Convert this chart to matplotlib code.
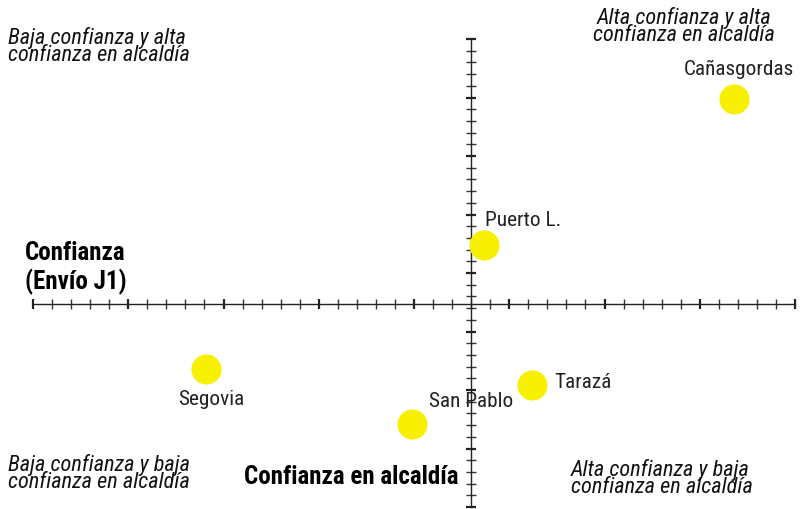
import matplotlib
matplotlib.use("Agg")
import matplotlib.pyplot as plt
from matplotlib.ticker import MultipleLocator

# municipios y posiciones (escala de 0 a 40 en cada eje)
municipios = ["Cañasgordas", "Puerto L.", "Segovia", "Tarazá", "San Pablo"]
conf_alcaldia = [36.8, 23.7, 9.1, 26.2, 19.9]
conf_envio = [34.9, 22.4, 11.8, 10.4, 7.1]

quadrant_labels = [
    "Baja confianza y alta\nconfianza en alcaldía",
    "Alta confianza y alta\nconfianza en alcaldía",
    "Baja confianza y baja\nconfianza en alcaldía",
    "Alta confianza y baja\nconfianza en alcaldía",
]

# (dx, dy, ha) offsets for each point label, in pixels
label_pos = [(5, 30, "center"), (1, 25, "left"), (5, -30, "center"),
             (22, 4, "left"), (17, 23, "left")]

FONT = ["Roboto Condensed", "Liberation Sans Narrow", "Roboto", "DejaVu Sans"]
plt.rcParams["font.family"] = FONT

fig = plt.figure(figsize=(8, 5.1), dpi=100)
ax = fig.add_axes([33 / 800, 2 / 510, 762 / 800, 468 / 510])
ax.set_xlim(0, 40)
ax.set_ylim(0, 40)

# axes cross at the average of the municipios
cx = sum(conf_alcaldia) / len(conf_alcaldia) - 0.15
cy = sum(conf_envio) / len(conf_envio)

for s in ["top", "right"]:
    ax.spines[s].set_visible(False)
ax.spines["left"].set_position(("data", cx))
ax.spines["bottom"].set_position(("data", cy))
for s in ["left", "bottom"]:
    ax.spines[s].set_linewidth(1.0)
    ax.spines[s].set_color("#222222")

ax.xaxis.set_major_locator(MultipleLocator(5))
ax.xaxis.set_minor_locator(MultipleLocator(1))
ax.yaxis.set_major_locator(MultipleLocator(5))
ax.yaxis.set_minor_locator(MultipleLocator(1))
ax.tick_params(which="major", direction="inout", length=7.5, width=1.6, color="#222222")
ax.tick_params(which="minor", direction="inout", length=6.5, width=1.0, color="#333333")
ax.tick_params(labelbottom=False, labelleft=False)

ax.scatter(conf_alcaldia, conf_envio, s=470, color="#f7f000", zorder=3, linewidths=0)

for name, x, y, (dx, dy, ha) in zip(municipios, conf_alcaldia, conf_envio, label_pos):
    ax.annotate(name, (x, y), xytext=(dx, dy), textcoords="offset pixels",
                ha=ha, va="center", fontsize=15.3, color="#222222", zorder=4)

qkw = dict(fontsize=16, style="italic", color="#111111", linespacing=0.78)
fig.text(8 / 800, 1 - 27 / 510, quadrant_labels[0], ha="left", va="top", **qkw)
fig.text(684 / 800, 1 - 7 / 510, quadrant_labels[1], ha="center", va="top",
         multialignment="center", **qkw)
fig.text(8 / 800, 1 - 454 / 510, quadrant_labels[2], ha="left", va="top", **qkw)
fig.text(571 / 800, 1 - 459 / 510, quadrant_labels[3], ha="left", va="top", **qkw)

bkw = dict(fontsize=18, fontweight="bold", color="black")
fig.text(25 / 800, 1 - 268 / 510, "Confianza\n(Envío J1)", ha="left", va="center",
         linespacing=1.18, **bkw)
fig.text(459 / 800, 1 - 477 / 510, "Confianza en alcaldía", ha="right", va="center", **bkw)

fig.savefig("out.png", dpi=100)
